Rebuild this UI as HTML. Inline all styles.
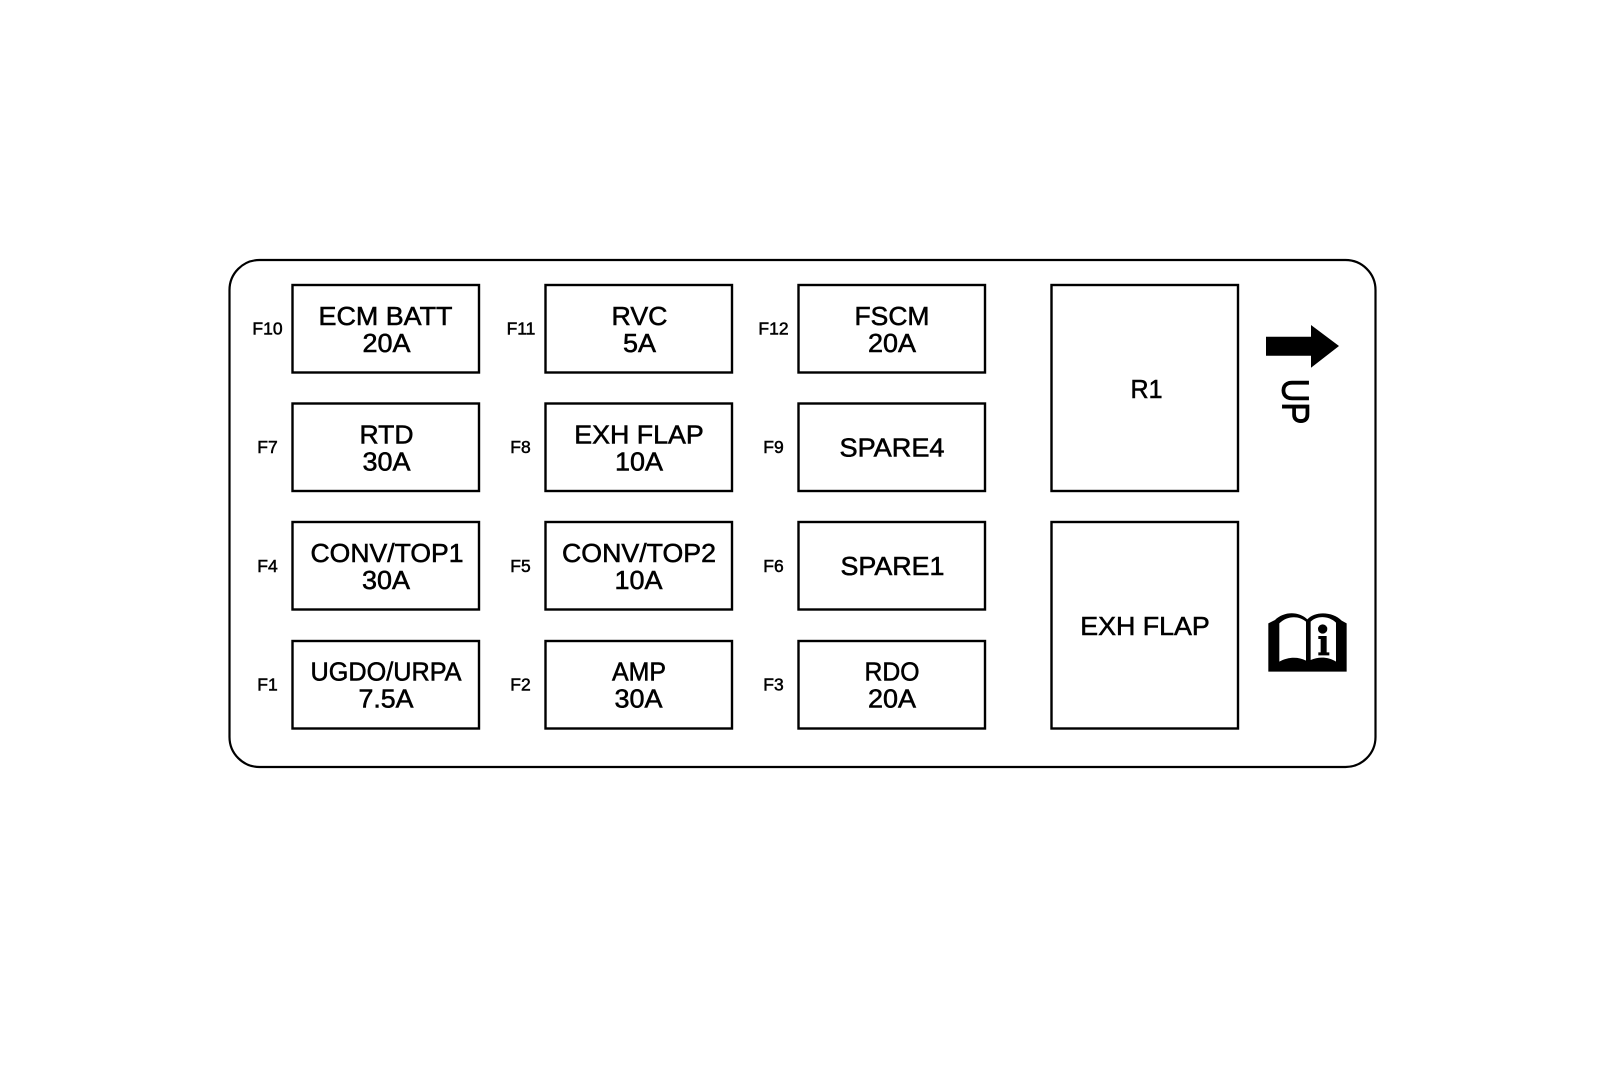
<!DOCTYPE html>
<html><head><meta charset="utf-8"><style>
html,body{margin:0;padding:0;background:#fff}
svg{display:block}
text{font-family:"Liberation Sans",sans-serif;fill:#000;text-anchor:middle}
.m{font-size:26px;stroke:#000;stroke-width:.55px}
.s{font-size:17.5px;stroke:#000;stroke-width:.5px}
.b{fill:#fff;stroke:#000;stroke-width:2.4}
</style></head><body>
<svg width="1600" height="1090" viewBox="0 0 1600 1090" xmlns="http://www.w3.org/2000/svg">
<rect width="1600" height="1090" fill="#fff"/>
<rect x="229.5" y="260" width="1146" height="507" rx="30" ry="30" fill="#fff" stroke="#000" stroke-width="2.2"/>
<!-- row 1 -->
<rect class="b" x="292.5" y="285" width="186.500" height="87.500"/>
<rect class="b" x="545.5" y="285" width="186.500" height="87.500"/>
<rect class="b" x="798.500" y="285" width="186.500" height="87.500"/>
<!-- row 2 -->
<rect class="b" x="292.5" y="403.500" width="186.500" height="87.500"/>
<rect class="b" x="545.5" y="403.500" width="186.500" height="87.500"/>
<rect class="b" x="798.500" y="403.500" width="186.500" height="87.500"/>
<!-- row 3 -->
<rect class="b" x="292.5" y="522" width="186.500" height="87.500"/>
<rect class="b" x="545.5" y="522" width="186.500" height="87.500"/>
<rect class="b" x="798.500" y="522" width="186.500" height="87.500"/>
<!-- row 4 -->
<rect class="b" x="292.5" y="641" width="186.500" height="87.500"/>
<rect class="b" x="545.5" y="641" width="186.500" height="87.500"/>
<rect class="b" x="798.500" y="641" width="186.500" height="87.500"/>
<!-- relays -->
<rect class="b" x="1051.500" y="285" width="186.500" height="206"/>
<rect class="b" x="1051.500" y="522" width="186.500" height="206.500"/>

<text class="m" x="385.500" y="325" textLength="134" lengthAdjust="spacingAndGlyphs">ECM BATT</text><text class="m" x="386.500" y="352" textLength="48" lengthAdjust="spacingAndGlyphs">20A</text>
<text class="m" x="639.500" y="325" textLength="56" lengthAdjust="spacingAndGlyphs">RVC</text><text class="m" x="639.500" y="352" textLength="33" lengthAdjust="spacingAndGlyphs">5A</text>
<text class="m" x="892" y="325" textLength="75" lengthAdjust="spacingAndGlyphs">FSCM</text><text class="m" x="892" y="352" textLength="48" lengthAdjust="spacingAndGlyphs">20A</text>
<text class="m" x="386.500" y="443.500" textLength="54" lengthAdjust="spacingAndGlyphs">RTD</text><text class="m" x="386.500" y="470.500" textLength="48" lengthAdjust="spacingAndGlyphs">30A</text>
<text class="m" x="639" y="443.500" textLength="129.500" lengthAdjust="spacingAndGlyphs">EXH FLAP</text><text class="m" x="639" y="470.500" textLength="48" lengthAdjust="spacingAndGlyphs">10A</text>
<text class="m" x="892" y="456.500" textLength="105" lengthAdjust="spacingAndGlyphs">SPARE4</text>
<text class="m" x="387" y="562" textLength="153" lengthAdjust="spacingAndGlyphs">CONV/TOP1</text><text class="m" x="386" y="589" textLength="48" lengthAdjust="spacingAndGlyphs">30A</text>
<text class="m" x="639" y="562" textLength="154" lengthAdjust="spacingAndGlyphs">CONV/TOP2</text><text class="m" x="638.500" y="589" textLength="48" lengthAdjust="spacingAndGlyphs">10A</text>
<text class="m" x="892.500" y="575" textLength="104" lengthAdjust="spacingAndGlyphs">SPARE1</text>
<text class="m" x="386" y="680.500" textLength="151" lengthAdjust="spacingAndGlyphs">UGDO/URPA</text><text class="m" x="386" y="707.500" textLength="55" lengthAdjust="spacingAndGlyphs">7.5A</text>
<text class="m" x="639" y="680.500" textLength="54" lengthAdjust="spacingAndGlyphs">AMP</text><text class="m" x="638.500" y="707.500" textLength="48" lengthAdjust="spacingAndGlyphs">30A</text>
<text class="m" x="892" y="680.500" textLength="55" lengthAdjust="spacingAndGlyphs">RDO</text><text class="m" x="892" y="707.500" textLength="48" lengthAdjust="spacingAndGlyphs">20A</text>
<text class="m" x="1146.500" y="398" textLength="32" lengthAdjust="spacingAndGlyphs">R1</text>
<text class="m" x="1145" y="635" textLength="129.500" lengthAdjust="spacingAndGlyphs">EXH FLAP</text>

<text class="s" x="267.500" y="334.500">F10</text>
<text class="s" x="521" y="334.500">F11</text>
<text class="s" x="773.500" y="334.500">F12</text>
<text class="s" x="267.500" y="453">F7</text>
<text class="s" x="520.500" y="453">F8</text>
<text class="s" x="773.500" y="453">F9</text>
<text class="s" x="267.500" y="572">F4</text>
<text class="s" x="520.500" y="572">F5</text>
<text class="s" x="773.500" y="572">F6</text>
<text class="s" x="267.500" y="690.500">F1</text>
<text class="s" x="520.500" y="690.500">F2</text>
<text class="s" x="773.500" y="690.500">F3</text>

<!-- UP arrow -->
<polygon points="1266,336.700 1311,336.700 1311,325 1339,346 1311,367.700 1311,355.700 1266,355.700"/>
<text transform="translate(1282.500,401.500) rotate(90) scale(1,1.15)" x="0" y="0" style="font-size:33px;stroke:#000;stroke-width:.8px">UP</text>

<!-- book with info -->
<g transform="translate(1200,590) scale(.3333)">
<path d="M205 100 L205 245 L440 245 L440 100 L425 92 C400 65 345 62 322 88 C295 62 250 65 225 90 Z" fill="#000"/>
<path d="M238 100 L238 215 C265 200 295 200 318 212 L318 95 C295 75 260 78 238 100 Z" fill="#fff"/>
<path d="M332 95 C352 75 388 78 408 98 L408 215 C385 200 355 200 332 210 Z" fill="#fff"/>
<circle cx="368" cy="117" r="14" fill="#000"/>
<path d="M355 138 L380 138 L380 187 L388 187 L388 196 L355 196 L355 187 L362 187 L362 147 L355 147 Z" fill="#000"/>
</g>
</svg>
</body></html>
